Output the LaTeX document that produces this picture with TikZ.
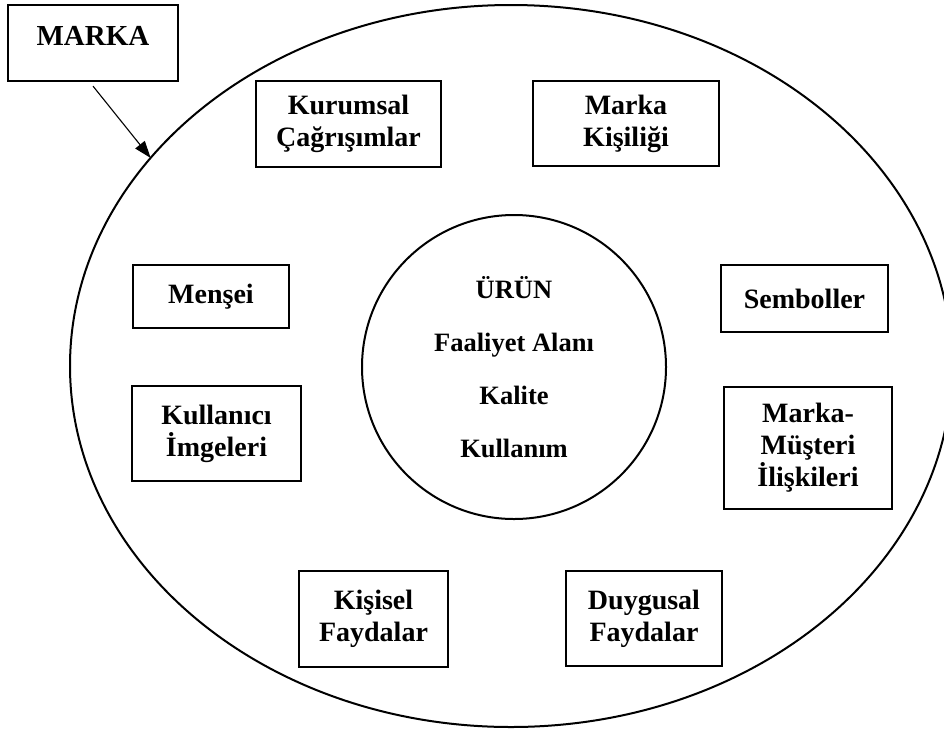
\documentclass[tikz,border=0pt]{standalone}
\usepackage{fontspec}
\setmainfont{Liberation Serif}
\usepackage{tikz}
\usetikzlibrary{shapes.geometric,arrows.meta}
\tikzset{>={Triangle[length=17pt,width=12pt]},
  kutu/.style={draw, line width=2.2pt, align=center, inner sep=0pt,
    font=\bfseries\fontsize{28}{32}\selectfont},
  halka/.style={draw, line width=2pt, inner sep=0pt, outer sep=0pt}}

\begin{document}
\begin{tikzpicture}[x=1pt,y=-1pt]
\useasboundingbox (0,0) rectangle (944,729);

\node[halka, ellipse, minimum width=882pt, minimum height=722pt] (alan) at (511,366) {};
\node[halka, circle, minimum size=304pt, align=center,
  font=\bfseries\fontsize{26.5}{32}\selectfont] (urun) at (514,367)
  {ÜRÜN\\[21pt]Faaliyet Alanı\\[21pt]Kalite\\[21pt]Kullanım};

\node[kutu, minimum width=170pt, minimum height=76pt, text height=20pt, text depth=16pt,
  font=\bfseries\fontsize{29}{32}\selectfont] (marka) at (93,43) {MARKA};
\draw[->, line width=1.1pt] ([yshift=-4pt]marka.south) -- (alan.150); % marka okunun ucu halkada

\node[kutu, minimum width=185pt, minimum height=86pt] (kurumsal) at (348.5,124) {Kurumsal\\Çağrışımlar};
\node[kutu, minimum width=186pt, minimum height=85pt] (kisilik) at (626,123.5) {Marka\\Kişiliği};
\node[kutu, minimum width=156pt, minimum height=63pt] (mensei) at (211,296.5) {Menşei};
\node[kutu, minimum width=167pt, minimum height=67pt] (sembol) at (804.5,298.5) {Semboller};
\node[kutu, minimum width=169pt, minimum height=95pt] (imge) at (216.5,433.5) {Kullanıcı\\İmgeleri};
\node[kutu, minimum width=168pt, minimum height=122pt] (iliski) at (808,448) {Marka-\\Müşteri\\İlişkileri};
\node[kutu, minimum width=149pt, minimum height=96pt] (kisisel) at (373.5,619) {Kişisel\\Faydalar};
\node[kutu, minimum width=156pt, minimum height=95pt] (duygu) at (644,618.5) {Duygusal\\Faydalar};
\end{tikzpicture}
\end{document}
